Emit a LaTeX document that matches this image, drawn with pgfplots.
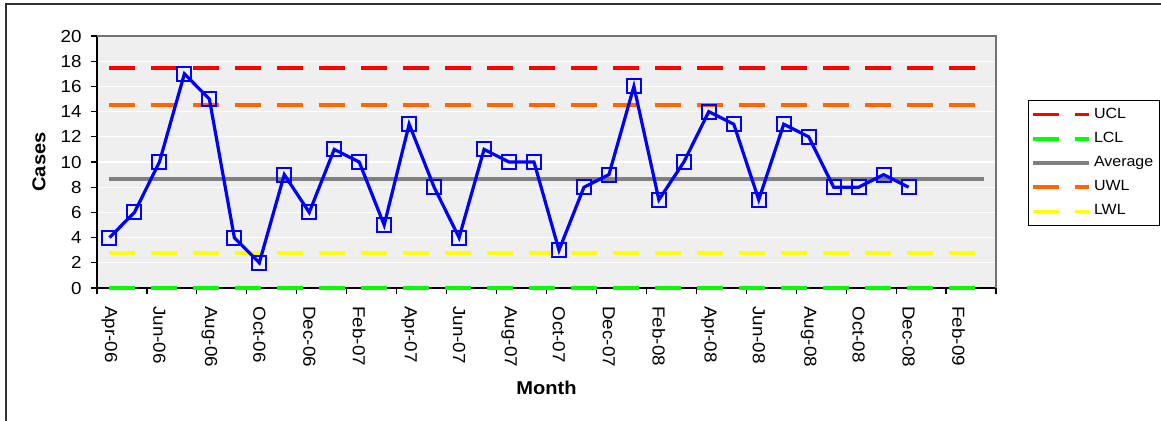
\documentclass[border=0pt]{standalone}
\usepackage{pgfplots}
\pgfplotsset{compat=1.18}
\usepackage{fontspec}
\setmainfont{Liberation Sans}[FakeStretch=1.08]

\definecolor{uclc}{RGB}{255,0,0}
\definecolor{lclc}{RGB}{0,255,0}
\definecolor{avgc}{RGB}{128,128,128}
\definecolor{uwlc}{RGB}{255,102,0}
\definecolor{lwlc}{RGB}{255,255,0}
\definecolor{casec}{RGB}{0,0,255}
\definecolor{plotbg}{RGB}{239,239,239}
\definecolor{framec}{RGB}{50,50,50}

% monthly case counts, Apr-06 (0) to Dec-08 (32)
\pgfplotstableread{
m  cases
0  4
1  6
2  10
3  17
4  15
5  4
6  2
7  9
8  6
9  11
10 10
11 5
12 13
13 8
14 4
15 11
16 10
17 10
18 3
19 8
20 9
21 16
22 7
23 10
24 14
25 13
26 7
27 13
28 12
29 8
30 8
31 9
32 8
}\casestable

\begin{document}
\begin{tikzpicture}
\useasboundingbox (0,0) rectangle (580.5pt,-210pt);
\draw[framec, line width=1pt] (3pt,-2pt) rectangle (620pt,-240pt);

\begin{axis}[
  at={(48.5pt,-144pt)}, anchor=south west,
  width=449.5pt, height=126pt, scale only axis,
  xmin=-0.5, xmax=35.5, ymin=0, ymax=20,
  clip=false,
  axis background/.style={fill=plotbg},
  axis x line*=bottom, axis y line*=left,
  axis line style={black, line width=0.7pt},
  tick align=outside,
  major tick length=3pt,
  tick style={black, line width=0.6pt},
  ytick={0,2,...,20},
  ymajorgrids, grid style={white, line width=0.6pt},
  xtick={0,2,...,34},
  xticklabels={Apr-06,Jun-06,Aug-06,Oct-06,Dec-06,Feb-07,Apr-07,Jun-07,Aug-07,Oct-07,Dec-07,Feb-08,Apr-08,Jun-08,Aug-08,Oct-08,Dec-08,Feb-09},
  xtick style={draw=none},
  extra x ticks={-0.5,1.5,...,35.5},
  extra x tick labels={},
  extra x tick style={xtick style={draw=black}},
  /pgf/number format/assume math mode=true,
  yticklabel style={font=\fontsize{8.7}{10}\selectfont, inner sep=0pt, xshift=-4.5pt},
  xticklabel style={font=\fontsize{8.7}{10}\selectfont, inner sep=0pt, rotate=-90, anchor=west},
  xticklabel shift=6pt,
  legend style={at={(axis description cs:1.0356,0.746)}, anchor=north west,
    draw=black, line width=0.6pt, fill=white,
    font=\fontsize{7.4}{9}\selectfont, row sep=3.05pt,
    inner xsep=1.5pt, inner ysep=2.5pt,
    nodes={inner xsep=1.5pt, inner ysep=1.2pt}},
  legend cell align=left,
  legend image code/.code={\draw[#1] (0pt,0pt) -- (28pt,0pt);},
]
\addplot[uclc, line width=1.7pt, dash pattern=on 13pt off 8pt] coordinates {(0,17.47) (35,17.47)};
\addlegendentry{UCL}
\addplot[lclc, line width=1.7pt, dash pattern=on 13pt off 8pt] coordinates {(0,0) (35,0)};
\addlegendentry{LCL}
\addplot[avgc, line width=1.6pt] coordinates {(0,8.65) (35,8.65)};
\addlegendentry{Average}
\addplot[uwlc, line width=1.7pt, dash pattern=on 13pt off 8pt] coordinates {(0,14.53) (35,14.53)};
\addlegendentry{UWL}
\addplot[lwlc, line width=1.7pt, dash pattern=on 13pt off 8pt] coordinates {(0,2.77) (35,2.77)};
\addlegendentry{LWL}
\addplot[casec, line width=1.6pt, mark=square, mark size=3.5pt,
  mark options={solid, line width=1pt}, forget plot] table[x=m, y=cases] {\casestable};

\draw[gray!90!black, line width=0.7pt] (rel axis cs:0,1) -- (rel axis cs:1,1) -- (rel axis cs:1,0);
\end{axis}

\node[font=\bfseries\fontsize{9.3}{11}\selectfont, rotate=90] at (19.5pt,-81pt) {Cases};
\node[font=\bfseries\fontsize{9.3}{11}\selectfont] at (273.25pt,-194pt) {Month};
\end{tikzpicture}
\end{document}
